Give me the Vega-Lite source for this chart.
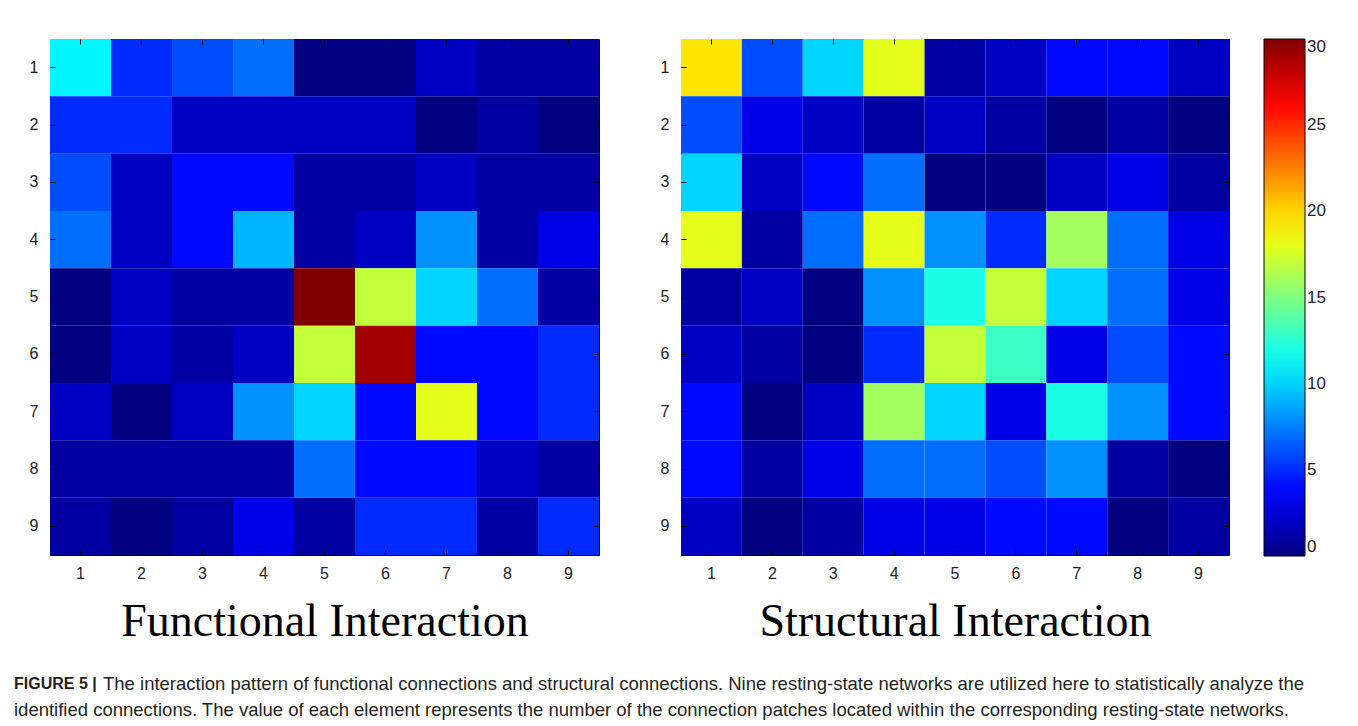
{
  "$schema": "https://vega.github.io/schema/vega-lite/v6.json",
  "background": "white",
  "padding": {"left": 7, "top": 38, "right": 0, "bottom": 0},
  "config": {
    "view": {"stroke": "#000", "strokeWidth": 1},
    "font": "Liberation Sans",
    "axis": {"grid": false, "domain": false, "labelFont": "Liberation Sans", "labelFontSize": 16, "labelColor": "#222", "tickColor": "#000", "tickWidth": 1, "labelAngle": 0, "bandPosition": 0.5},
    "legend": {"orient": "right", "offset": 34, "padding": 0, "gradientLength": 517, "gradientThickness": 41, "gradientStrokeColor": "#000", "gradientStrokeWidth": 1, "labelFont": "Liberation Sans", "labelFontSize": 17, "labelColor": "#222", "labelOffset": 3}
  },
  "datasets": {
    "functional": [
      {"r":1,"c":1,"v":11},{"r":1,"c":2,"v":5},{"r":1,"c":3,"v":6},{"r":1,"c":4,"v":7},{"r":1,"c":5,"v":0},{"r":1,"c":6,"v":0},{"r":1,"c":7,"v":2},{"r":1,"c":8,"v":1},{"r":1,"c":9,"v":1},
      {"r":2,"c":1,"v":5},{"r":2,"c":2,"v":5},{"r":2,"c":3,"v":2},{"r":2,"c":4,"v":2},{"r":2,"c":5,"v":2},{"r":2,"c":6,"v":2},{"r":2,"c":7,"v":0},{"r":2,"c":8,"v":1},{"r":2,"c":9,"v":0},
      {"r":3,"c":1,"v":6},{"r":3,"c":2,"v":2},{"r":3,"c":3,"v":4},{"r":3,"c":4,"v":4},{"r":3,"c":5,"v":1},{"r":3,"c":6,"v":1},{"r":3,"c":7,"v":2},{"r":3,"c":8,"v":1},{"r":3,"c":9,"v":1},
      {"r":4,"c":1,"v":7},{"r":4,"c":2,"v":2},{"r":4,"c":3,"v":4},{"r":4,"c":4,"v":9},{"r":4,"c":5,"v":1},{"r":4,"c":6,"v":2},{"r":4,"c":7,"v":8},{"r":4,"c":8,"v":1},{"r":4,"c":9,"v":3},
      {"r":5,"c":1,"v":0},{"r":5,"c":2,"v":2},{"r":5,"c":3,"v":1},{"r":5,"c":4,"v":1},{"r":5,"c":5,"v":30},{"r":5,"c":6,"v":17},{"r":5,"c":7,"v":10},{"r":5,"c":8,"v":7},{"r":5,"c":9,"v":1},
      {"r":6,"c":1,"v":0},{"r":6,"c":2,"v":2},{"r":6,"c":3,"v":1},{"r":6,"c":4,"v":2},{"r":6,"c":5,"v":17},{"r":6,"c":6,"v":29},{"r":6,"c":7,"v":4},{"r":6,"c":8,"v":4},{"r":6,"c":9,"v":5},
      {"r":7,"c":1,"v":2},{"r":7,"c":2,"v":0},{"r":7,"c":3,"v":2},{"r":7,"c":4,"v":8},{"r":7,"c":5,"v":10},{"r":7,"c":6,"v":4},{"r":7,"c":7,"v":18},{"r":7,"c":8,"v":4},{"r":7,"c":9,"v":5},
      {"r":8,"c":1,"v":1},{"r":8,"c":2,"v":1},{"r":8,"c":3,"v":1},{"r":8,"c":4,"v":1},{"r":8,"c":5,"v":7},{"r":8,"c":6,"v":4},{"r":8,"c":7,"v":4},{"r":8,"c":8,"v":2},{"r":8,"c":9,"v":1},
      {"r":9,"c":1,"v":1},{"r":9,"c":2,"v":0},{"r":9,"c":3,"v":1},{"r":9,"c":4,"v":3},{"r":9,"c":5,"v":1},{"r":9,"c":6,"v":5},{"r":9,"c":7,"v":5},{"r":9,"c":8,"v":1},{"r":9,"c":9,"v":5}
    ],
    "structural": [
      {"r":1,"c":1,"v":19.5},{"r":1,"c":2,"v":6},{"r":1,"c":3,"v":10},{"r":1,"c":4,"v":18},{"r":1,"c":5,"v":1},{"r":1,"c":6,"v":2},{"r":1,"c":7,"v":4},{"r":1,"c":8,"v":4},{"r":1,"c":9,"v":2},
      {"r":2,"c":1,"v":6},{"r":2,"c":2,"v":3},{"r":2,"c":3,"v":2},{"r":2,"c":4,"v":1},{"r":2,"c":5,"v":2},{"r":2,"c":6,"v":1},{"r":2,"c":7,"v":0},{"r":2,"c":8,"v":1},{"r":2,"c":9,"v":0},
      {"r":3,"c":1,"v":10},{"r":3,"c":2,"v":2},{"r":3,"c":3,"v":4},{"r":3,"c":4,"v":7},{"r":3,"c":5,"v":0},{"r":3,"c":6,"v":0},{"r":3,"c":7,"v":2},{"r":3,"c":8,"v":3},{"r":3,"c":9,"v":1},
      {"r":4,"c":1,"v":18},{"r":4,"c":2,"v":1},{"r":4,"c":3,"v":7},{"r":4,"c":4,"v":18},{"r":4,"c":5,"v":8},{"r":4,"c":6,"v":5},{"r":4,"c":7,"v":16},{"r":4,"c":8,"v":7},{"r":4,"c":9,"v":3},
      {"r":5,"c":1,"v":1},{"r":5,"c":2,"v":2},{"r":5,"c":3,"v":0},{"r":5,"c":4,"v":8},{"r":5,"c":5,"v":12},{"r":5,"c":6,"v":17},{"r":5,"c":7,"v":10},{"r":5,"c":8,"v":7},{"r":5,"c":9,"v":3},
      {"r":6,"c":1,"v":2},{"r":6,"c":2,"v":1},{"r":6,"c":3,"v":0},{"r":6,"c":4,"v":5},{"r":6,"c":5,"v":17},{"r":6,"c":6,"v":13},{"r":6,"c":7,"v":3},{"r":6,"c":8,"v":6},{"r":6,"c":9,"v":4},
      {"r":7,"c":1,"v":4},{"r":7,"c":2,"v":0},{"r":7,"c":3,"v":2},{"r":7,"c":4,"v":16},{"r":7,"c":5,"v":10},{"r":7,"c":6,"v":3},{"r":7,"c":7,"v":12},{"r":7,"c":8,"v":8},{"r":7,"c":9,"v":4},
      {"r":8,"c":1,"v":4},{"r":8,"c":2,"v":1},{"r":8,"c":3,"v":3},{"r":8,"c":4,"v":7},{"r":8,"c":5,"v":7},{"r":8,"c":6,"v":6},{"r":8,"c":7,"v":8},{"r":8,"c":8,"v":1},{"r":8,"c":9,"v":0},
      {"r":9,"c":1,"v":2},{"r":9,"c":2,"v":0},{"r":9,"c":3,"v":1},{"r":9,"c":4,"v":3},{"r":9,"c":5,"v":3},{"r":9,"c":6,"v":4},{"r":9,"c":7,"v":4},{"r":9,"c":8,"v":0},{"r":9,"c":9,"v":1}
    ],
    "caption": [
      {"line": 1, "part": "b", "t": "FIGURE 5 |"},
      {"line": 1, "part": "r1", "t": "The interaction pattern of functional connections and structural connections. Nine resting-state networks are utilized here to statistically analyze the"},
      {"line": 2, "part": "r2", "t": "identified connections. The value of each element represents the number of the connection patches located within the corresponding resting-state networks."}
    ]
  },
  "vconcat": [
    {
      "hconcat": [
        {
          "data": {"name": "functional"},
          "width": 549,
          "height": 516,
          "layer": [
            {
              "mark": {"type": "rect", "strokeWidth": 0},
              "encoding": {
                "x": {"field": "c", "type": "ordinal", "scale": {"paddingInner": 0, "paddingOuter": 0}, "axis": {"orient": "bottom", "title": "Functional Interaction", "titleFont": "Liberation Serif", "titleFontSize": 46, "titleFontWeight": "normal", "titleColor": "#000", "titlePadding": 18, "labelPadding": 15, "tickSize": -5, "minExtent": 26, "maxExtent": 26}},
                "y": {"field": "r", "type": "ordinal", "scale": {"paddingInner": 0, "paddingOuter": 0}, "axis": {"orient": "left", "title": null, "labelPadding": 17, "tickSize": -5, "minExtent": 42, "maxExtent": 42}},
                "color": {"field": "v", "type": "quantitative", "scale": {"domain": [0, 3.75, 11.25, 18.75, 26.25, 30], "range": ["#000080", "#0000ff", "#00ffff", "#ffff00", "#ff0000", "#800000"], "interpolate": "rgb"}, "legend": {"title": null, "values": [0, 5, 10, 15, 20, 25, 30]}}
              }
            },
            {
              "mark": {"type": "rect", "opacity": 0},
              "encoding": {
                "x": {"field": "c", "type": "ordinal", "axis": {"orient": "top", "labels": false, "title": null, "tickSize": -5, "minExtent": 0, "maxExtent": 0}},
                "y": {"field": "r", "type": "ordinal", "axis": {"orient": "right", "labels": false, "title": null, "tickSize": -5, "minExtent": 0, "maxExtent": 0}}
              }
            }
          ],
          "resolve": {"axis": {"x": "independent", "y": "independent"}}
        },
        {
          "data": {"name": "structural"},
          "width": 548,
          "height": 516,
          "layer": [
            {
              "mark": {"type": "rect", "strokeWidth": 0},
              "encoding": {
                "x": {"field": "c", "type": "ordinal", "scale": {"paddingInner": 0, "paddingOuter": 0}, "axis": {"orient": "bottom", "title": "Structural Interaction", "titleFont": "Liberation Serif", "titleFontSize": 46, "titleFontWeight": "normal", "titleColor": "#000", "titlePadding": 18, "labelPadding": 15, "tickSize": -5, "minExtent": 26, "maxExtent": 26}},
                "y": {"field": "r", "type": "ordinal", "scale": {"paddingInner": 0, "paddingOuter": 0}, "axis": {"orient": "left", "title": null, "labelPadding": 17, "tickSize": -5, "minExtent": 42, "maxExtent": 42}},
                "color": {"field": "v", "type": "quantitative", "scale": {"domain": [0, 3.75, 11.25, 18.75, 26.25, 30], "range": ["#000080", "#0000ff", "#00ffff", "#ffff00", "#ff0000", "#800000"], "interpolate": "rgb"}, "legend": {"title": null, "values": [0, 5, 10, 15, 20, 25, 30]}}
              }
            },
            {
              "mark": {"type": "rect", "opacity": 0},
              "encoding": {
                "x": {"field": "c", "type": "ordinal", "axis": {"orient": "top", "labels": false, "title": null, "tickSize": -5, "minExtent": 0, "maxExtent": 0}},
                "y": {"field": "r", "type": "ordinal", "axis": {"orient": "right", "labels": false, "title": null, "tickSize": -5, "minExtent": 0, "maxExtent": 0}}
              }
            }
          ],
          "resolve": {"axis": {"x": "independent", "y": "independent"}}
        }
      ],
      "spacing": 38,
      "resolve": {"scale": {"color": "shared"}, "legend": {"color": "shared"}}
    },
    {
      "data": {"name": "caption"},
      "width": 1300,
      "height": 52,
      "view": {"stroke": null},
      "layer": [
        {
          "transform": [{"filter": "datum.part === 'b'"}],
          "mark": {"type": "text", "align": "left", "baseline": "middle", "font": "Liberation Sans", "fontSize": 16, "fontWeight": "bold", "color": "#231f20"},
          "encoding": {"x": {"value": -36}, "y": {"field": "line", "type": "ordinal", "axis": null}, "text": {"field": "t"}}
        },
        {
          "transform": [{"filter": "datum.part === 'r1'"}],
          "mark": {"type": "text", "align": "left", "baseline": "middle", "font": "Liberation Sans", "fontSize": 18.5, "color": "#231f20", "dx": 89},
          "encoding": {"x": {"value": -36}, "y": {"field": "line", "type": "ordinal", "axis": null}, "text": {"field": "t"}}
        },
        {
          "transform": [{"filter": "datum.part === 'r2'"}],
          "mark": {"type": "text", "align": "left", "baseline": "middle", "font": "Liberation Sans", "fontSize": 18.5, "color": "#231f20"},
          "encoding": {"x": {"value": -36}, "y": {"field": "line", "type": "ordinal", "axis": null}, "text": {"field": "t"}}
        }
      ]
    }
  ],
  "spacing": 26,
  "resolve": {"scale": {"color": "independent"}, "legend": {"color": "independent"}}
}
